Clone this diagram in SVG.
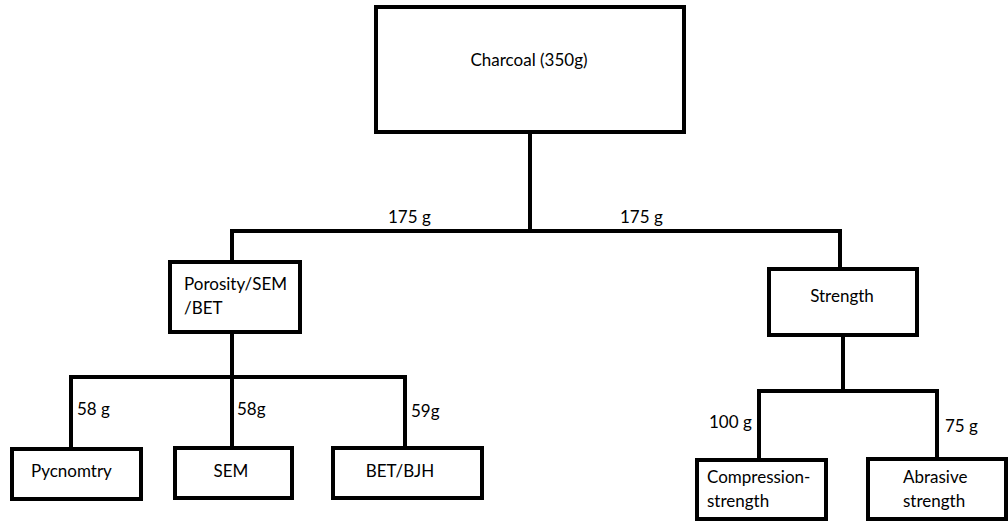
<svg xmlns="http://www.w3.org/2000/svg" width="1008" height="522" viewBox="0 0 1008 522">
<style>
.box{fill:#fff;stroke:#000;stroke-width:4}
.ln{fill:none;stroke:#000;stroke-width:4;stroke-linecap:square}
text{font-family:Lato,"Open Sans","Liberation Sans",sans-serif;font-size:17px;fill:#000}
.c{text-anchor:middle}
</style>
<rect width="1008" height="522" fill="#fff"/>
<g id="connectors">
<path class="ln" d="M530,133 V231 M232,231 H840 M232,231 V260 M840,231 V267"/>
<path class="ln" d="M232,334 V377 M71,377 H405 M71,377 V447 M232,377 V447 M405,377 V446"/>
<path class="ln" d="M843,336 V391 M759,391 H937 M759,391 V458 M937,391 V457"/>
<text x="388" y="223">175 g</text>
<text x="620" y="223">175 g</text>
<text x="77" y="415">58 g</text>
<text x="237" y="415">58g</text>
<text x="411" y="417">59g</text>
<text x="709" y="428">100 g</text>
<text x="945" y="432">75 g</text>
</g>
<g id="charcoal"><rect class="box" x="376" y="7" width="308" height="125"/><text class="c" x="529" y="66">Charcoal (350g)</text></g>
<g id="porosity"><rect class="box" x="170" y="262" width="130" height="70"/><text x="184" y="290">Porosity/SEM</text><text x="184" y="314">/BET</text></g>
<g id="strength"><rect class="box" x="769" y="269" width="148" height="66"/><text class="c" x="842" y="302">Strength</text></g>
<g id="pycnomtry"><rect class="box" x="12" y="449" width="129" height="50"/><text x="31" y="477">Pycnomtry</text></g>
<g id="sem"><rect class="box" x="175" y="448" width="117" height="50"/><text class="c" x="231" y="477">SEM</text></g>
<g id="betbjh"><rect class="box" x="333" y="448" width="149" height="50"/><text class="c" x="400" y="477">BET/BJH</text></g>
<g id="compression"><rect class="box" x="697" y="460" width="129" height="59"/><text x="707" y="483">Compression-</text><text x="707" y="507">strength</text></g>
<g id="abrasive"><rect class="box" x="868" y="459" width="138" height="60"/><text x="903" y="483">Abrasive</text><text x="903" y="507">strength</text></g>
</svg>
